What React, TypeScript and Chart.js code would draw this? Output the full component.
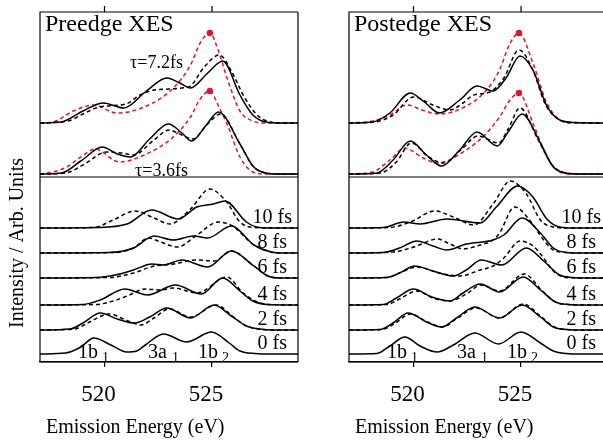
import { useEffect, useRef } from 'react';
import { Chart, registerables } from 'chart.js';

Chart.register(...registerables);

type Pt = [number, number];

const FONT = "'Liberation Serif', 'Times New Roman', serif";
const RED = '#e3122e';

// ---- axes / layout values ----
const xTicks = [520, 525];
const energyMin = 517;
const energyMaxLeft = 529;
const energyMaxRight = 528.81;
const yMax = 350;
const dividerValue = 185;

// ---- offsets of the stacked spectra ----
const upperBaselines = [239, 188]; // τ=7.2fs, τ=3.6fs
const tauLabels = ['τ=7.2fs', 'τ=3.6fs'];
const lowerBaselines = [8, 32, 57, 84, 109, 134]; // 0 .. 10 fs
const timeLabels = ['0 fs', '2 fs', '4 fs', '6 fs', '8 fs', '10 fs'];
const peakLabels: [string, string][] = [['1b', '1'], ['3a', '1'], ['1b', '2']];
const peakLabelEnergies = [518.77, 522.02, 524.35];

// ---- Preedge XES, upper part: [energy eV, intensity] ----
const preTau72Solid: Pt[] = [[517,0],[518.0,1],[519.0,12],[519.95,20],[520.9,15],[521.95,32],[522.9,45],[523.5,40],[524.0,35],[524.8,50],[525.5,62],[526.3,28],[526.9,8],[527.5,1],[528.2,0],[529,0]];
const preTau72Dash: Pt[] = [[517,0],[518.3,2],[519.0,9],[519.6,15],[520.1,17],[521.0,19],[521.65,28],[522.3,33],[523.0,34],[523.6,35],[524.0,37],[524.6,55],[525.35,68],[525.9,52],[526.5,26],[527.1,8],[527.7,1],[528.3,0],[529,0]];
const preTau72Red: Pt[] = [[517,0],[517.6,1],[518.55,12],[519.5,18],[520.57,10],[521.95,17],[523.2,35],[524.0,58],[524.45,80],[524.9,90],[525.3,72],[525.7,45],[526.3,12],[526.9,2],[527.5,0],[529,0]];
const preTau36Solid: Pt[] = [[517,0],[518.0,1],[518.9,13],[519.9,27],[520.6,20],[521.2,17],[522.1,35],[522.97,50],[523.6,41],[524.05,33],[524.7,48],[525.3,62],[526.3,30],[526.9,8],[527.5,1],[528.2,0],[529,0]];
const preTau36Dash: Pt[] = [[517,0],[518.2,1],[519.0,9],[520.1,22],[520.8,21],[521.35,19],[522.3,34],[523.0,44],[523.6,39],[524.1,35],[524.8,50],[525.4,60],[526.3,30],[526.9,8],[527.5,1],[528.2,0],[529,0]];
const preTau36Red: Pt[] = [[517,0],[517.6,2],[518.24,7],[518.9,17],[519.56,25],[520.7,12],[521.95,20],[523.2,37],[524.0,57],[524.45,75],[524.9,83],[525.3,68],[525.7,50],[526.3,17],[526.9,2],[527.5,0],[529,0]];

// ---- Preedge XES, lower part ----
const pre0Solid: Pt[] = [[517,0],[518.2,1],[518.9,7],[519.5,16],[520.3,9],[521.03,2],[521.5,3],[521.9,9],[522.74,20],[523.82,12],[524.98,22],[525.8,11],[526.3,3],[527.0,0.5],[527.8,0],[529,0]];
const pre2Solid: Pt[] = [[517,0],[518.4,1],[519.0,7],[519.8,17],[520.6,11],[521.4,7],[522.1,13],[522.9,22],[524.0,12],[525.1,25],[525.9,14],[526.6,4],[527.2,1],[527.9,0],[529,0]];
const pre2Dash: Pt[] = [[517,0],[518.6,1],[519.3,8],[520.2,16],[521.0,10],[521.7,5],[522.3,12],[523.0,21],[524.0,13],[525.2,25],[526.0,13],[526.6,4],[527.2,1],[527.9,0],[529,0]];
const pre4Solid: Pt[] = [[517,0],[519.0,0.5],[519.8,5],[520.95,16],[522.0,10],[523.3,20],[524.5,11],[525.5,27],[526.3,14],[526.9,4],[527.6,0.5],[529,0]];
const pre4Dash: Pt[] = [[517,0],[519.6,0.5],[520.4,4],[521.05,9],[521.9,16],[522.6,15],[523.2,17],[524.3,12],[525.7,28],[526.4,13],[527.0,4],[527.6,0.5],[529,0]];
const pre6Solid: Pt[] = [[517,0],[519.6,0.5],[520.5,3],[521.35,8],[522.2,14],[522.75,13],[523.6,18],[524.8,11],[525.9,27],[526.95,12],[527.6,2],[528.2,0],[529,0]];
const pre6Dash: Pt[] = [[517,0],[520.2,0.5],[521.35,5],[522.3,12],[523.2,14],[524.3,18],[525.1,17],[525.9,27],[526.95,12],[527.6,2],[528.2,0],[529,0]];
const pre8Solid: Pt[] = [[517,0],[520.2,0.5],[521.35,5],[522.3,17],[523.2,13],[524.15,17],[524.8,15],[525.9,27],[526.95,8],[527.75,1],[528.3,0],[529,0]];
const pre8Dash: Pt[] = [[517,0],[520.5,0.5],[521.35,5],[522.05,15],[522.6,11],[523.4,6],[524.3,18],[525.3,31],[525.95,27],[526.95,8],[527.75,1],[528.3,0],[529,0]];
const pre10Solid: Pt[] = [[517,0],[519.6,0.5],[521.05,4],[522.2,18],[523.43,9],[524.29,21],[525.06,24],[525.6,27],[526.6,6],[527.2,0.5],[527.8,0],[529,0]];
const pre10Dash: Pt[] = [[517,0],[519.5,0.5],[520.4,8],[521.42,17],[522.3,10],[523.05,4],[524.0,19],[524.9,39],[525.68,26],[526.3,6],[526.95,0.5],[529,0]];

// ---- Postedge XES, upper part ----
const postTau72Solid: Pt[] = [[517,0],[518.1,1],[518.9,10],[519.85,30],[520.5,21],[521.2,10],[522.15,23],[522.95,37],[523.7,32],[524.3,45],[524.95,67],[525.55,53],[526.2,17],[526.8,3],[527.5,0.5],[529,0]];
const postTau72Dash: Pt[] = [[517,0],[518.2,1],[519.05,8],[520.0,26],[520.9,18],[521.7,13],[522.3,20],[522.8,28],[523.55,31],[524.2,45],[524.9,73],[525.55,53],[526.1,20],[526.65,5],[527.4,0.5],[529,0]];
const postTau72Red: Pt[] = [[517,0],[518.1,2],[518.9,8],[519.7,18],[520.4,13],[521.2,9],[522.45,17],[523.4,33],[524.0,53],[524.45,78],[524.9,90],[525.55,60],[526.2,20],[526.8,3],[527.4,0],[529,0]];
const postTau36Solid: Pt[] = [[517,0],[518.3,1],[519.05,14],[519.85,33],[520.6,19],[521.3,8],[522.15,24],[522.95,42],[523.9,28],[524.4,42],[525.05,60],[525.9,31],[526.5,7],[527.1,1],[527.8,0],[529,0]];
const postTau36Dash: Pt[] = [[517,0],[518.45,1],[519.2,12],[519.9,31],[520.7,17],[521.4,11],[522.2,24],[523.0,38],[523.95,31],[524.4,45],[524.95,66],[525.8,34],[526.45,9],[527.05,1],[527.8,0],[529,0]];
const postTau36Red: Pt[] = [[517,0],[518.1,2],[518.9,14],[519.6,26],[520.45,16],[521.1,11],[522.45,24],[523.4,41],[524.0,57],[524.45,73],[524.9,81],[525.55,51],[526.2,17],[526.8,2],[527.4,0],[529,0]];

// ---- Postedge XES, lower part ----
const post0Solid: Pt[] = [[517,0],[518.3,0.5],[518.9,8],[519.6,17],[520.3,8],[521.1,2],[521.85,9],[522.85,21],[523.95,10],[525.0,22],[525.9,11],[526.5,3],[527.1,0.5],[527.8,0],[529,0]];
const post2Solid: Pt[] = [[517,0],[518.45,0.5],[519.05,7],[519.75,17],[520.6,8],[521.3,3],[522.0,12],[522.85,23],[524.0,12],[525.05,25],[525.9,13],[526.5,3],[527.1,0.5],[527.8,0],[529,0]];
const post2Dash: Pt[] = [[517,0],[518.5,0.5],[519.1,6],[519.85,16],[520.65,8],[521.35,3],[522.05,12],[522.9,22],[524.0,12],[525.1,26],[525.95,13],[526.55,3],[527.15,0.5],[527.8,0],[529,0]];
const post4Solid: Pt[] = [[517,0],[518.6,0.5],[519.2,7],[520.0,16],[520.85,8],[521.7,4],[522.3,12],[523.1,21],[524.0,13],[525.1,28],[525.9,15],[526.6,3],[527.2,0.5],[527.9,0],[529,0]];
const post4Dash: Pt[] = [[517,0],[518.75,0.5],[519.35,6],[520.15,14],[520.9,7],[521.7,4],[522.45,11],[523.15,20],[524.0,14],[525.15,31],[525.95,15],[526.6,3],[527.2,0.5],[527.9,0],[529,0]];
const post6Solid: Pt[] = [[517,0],[518.75,0.5],[519.35,5],[520.05,12],[520.9,7],[521.85,2],[522.45,8],[523.15,18],[524.1,13],[525.25,30],[526.05,17],[526.8,3],[527.4,0.5],[528,0],[529,0]];
const post6Dash: Pt[] = [[517,0],[518.75,0.5],[519.35,5],[520.15,11],[521.2,5],[522.15,2],[523.1,8],[523.7,12],[524.2,20],[524.95,37],[525.55,32],[526.05,20],[526.5,7],[527.1,0.5],[527.8,0],[529,0]];
const post8Solid: Pt[] = [[517,0],[518.6,0.5],[519.35,5],[520.15,12],[520.9,7],[521.55,3],[522.45,9],[523.7,13],[524.2,18],[525.05,35],[525.9,20],[526.5,5],[527.1,0.5],[527.8,0],[529,0]];
const post8Dash: Pt[] = [[517,0],[518.6,0.5],[519.35,2],[520.15,7],[521.1,14],[521.7,9],[522.3,4],[523.1,8],[523.7,13],[524.0,20],[524.7,46],[525.4,33],[526.05,13],[526.5,3],[527.1,0.5],[527.8,0],[529,0]];
const post10Solid: Pt[] = [[517,0],[518.6,0.5],[519.55,6],[520.3,4],[521.55,9],[523.1,5],[523.85,21],[524.85,42],[525.55,31],[526.2,9],[526.8,1],[527.5,0],[529,0]];
const post10Dash: Pt[] = [[517,0],[518.9,0.5],[519.85,6],[521.0,17],[521.85,11],[522.8,3],[523.7,24],[524.5,47],[525.25,34],[525.9,8],[526.5,1],[527.2,0],[529,0]];

type Group = { solid: Pt[]; dash: Pt[] | null; red?: Pt[] };

const preUpper: Group[] = [
  { solid: preTau72Solid, dash: preTau72Dash, red: preTau72Red },
  { solid: preTau36Solid, dash: preTau36Dash, red: preTau36Red },
];
const preLower: Group[] = [
  { solid: pre0Solid, dash: null },
  { solid: pre2Solid, dash: pre2Dash },
  { solid: pre4Solid, dash: pre4Dash },
  { solid: pre6Solid, dash: pre6Dash },
  { solid: pre8Solid, dash: pre8Dash },
  { solid: pre10Solid, dash: pre10Dash },
];
const postUpper: Group[] = [
  { solid: postTau72Solid, dash: postTau72Dash, red: postTau72Red },
  { solid: postTau36Solid, dash: postTau36Dash, red: postTau36Red },
];
const postLower: Group[] = [
  { solid: post0Solid, dash: null },
  { solid: post2Solid, dash: post2Dash },
  { solid: post4Solid, dash: post4Dash },
  { solid: post6Solid, dash: post6Dash },
  { solid: post8Solid, dash: post8Dash },
  { solid: post10Solid, dash: post10Dash },
];

function makeLine(points: Pt[], base: number, kind: 'solid' | 'dash' | 'red') {
  const data = points.map(([x, h]) => ({ x, y: base + h }));
  let peak = 0;
  points.forEach((p, i) => { if (p[1] > points[peak][1]) peak = i; });
  return {
    data,
    borderColor: kind === 'red' ? RED : '#000',
    borderWidth: 1.5,
    borderDash: kind === 'solid' ? [] : [4, 3],
    pointRadius: kind === 'red' ? points.map((_, i) => (i === peak ? 3.2 : 0)) : 0,
    pointBackgroundColor: RED,
    pointBorderWidth: 0,
    cubicInterpolationMode: 'monotone' as const,
    fill: false,
  };
}

function buildDatasets(upper: Group[], lower: Group[]) {
  const sets: any[] = [];
  const add = (g: Group, base: number) => {
    sets.push(makeLine(g.solid, base, 'solid'));
    if (g.dash) sets.push(makeLine(g.dash, base, 'dash'));
    if (g.red) sets.push(makeLine(g.red, base, 'red'));
  };
  upper.forEach((g, i) => add(g, upperBaselines[i]));
  lower.forEach((g, i) => add(g, lowerBaselines[i]));
  return sets;
}

type PanelCfg = {
  title: string;
  openRight: boolean;
  showTau: boolean;
  showYTitle: boolean;
};

function decorPlugin(cfg: PanelCfg) {
  return {
    id: 'decor',
    afterDraw(chart: any) {
      const { ctx, chartArea: a, scales } = chart;
      const xs = scales.x;
      const ys = scales.y;
      const right = cfg.openRight ? chart.width : a.right;
      ctx.save();
      ctx.strokeStyle = '#000';
      ctx.lineWidth = 1.2;
      ctx.setLineDash([]);
      ctx.beginPath();
      ctx.moveTo(right, a.top);
      ctx.lineTo(a.left, a.top);
      ctx.lineTo(a.left, a.bottom);
      ctx.lineTo(right, a.bottom);
      if (!cfg.openRight) {
        ctx.moveTo(a.right, a.top);
        ctx.lineTo(a.right, a.bottom);
      }
      const dy = ys.getPixelForValue(dividerValue);
      ctx.moveTo(a.left, dy);
      ctx.lineTo(right, dy);
      xTicks.forEach((v) => {
        const px = xs.getPixelForValue(v);
        ctx.moveTo(px, a.top);
        ctx.lineTo(px, a.top - 6);
      });
      ctx.stroke();

      ctx.fillStyle = '#000';
      ctx.textBaseline = 'alphabetic';
      ctx.textAlign = 'left';
      ctx.font = `24px ${FONT}`;
      ctx.fillText(cfg.title, a.left + 5, 31);

      if (cfg.showTau) {
        ctx.font = `18px ${FONT}`;
        ctx.fillText(tauLabels[0], xs.getPixelForValue(521.19), ys.getPixelForValue(upperBaselines[0] + 55));
        ctx.fillText(tauLabels[1], xs.getPixelForValue(521.42), ys.getPixelForValue(upperBaselines[1] - 2));
      }

      ctx.font = `20px ${FONT}`;
      ctx.textAlign = 'center';
      timeLabels.forEach((t, i) => {
        ctx.fillText(t, xs.getPixelForValue(527.8), ys.getPixelForValue(lowerBaselines[i] + 5));
      });

      ctx.textAlign = 'left';
      peakLabels.forEach(([main, sub], i) => {
        const px = xs.getPixelForValue(peakLabelEnergies[i]);
        ctx.font = `20px ${FONT}`;
        ctx.fillText(main, px, ys.getPixelForValue(4));
        ctx.font = `14px ${FONT}`;
        ctx.fillText(sub, px + 24, ys.getPixelForValue(0.5));
      });

      ctx.font = `20px ${FONT}`;
      ctx.fillText('Emission Energy (eV)', a.left + 6, 433);

      if (cfg.showYTitle) {
        ctx.save();
        ctx.translate(18, 243);
        ctx.rotate(-Math.PI / 2);
        ctx.textAlign = 'center';
        ctx.textBaseline = 'middle';
        ctx.fillText('Intensity / Arb. Units', 0, 0);
        ctx.restore();
      }
      ctx.restore();
    },
  };
}

function makeChart(canvas: HTMLCanvasElement, upper: Group[], lower: Group[], xMax: number, padLeft: number, padRight: number, cfg: PanelCfg) {
  return new Chart(canvas, {
    type: 'line',
    data: { datasets: buildDatasets(upper, lower) },
    options: {
      animation: false,
      responsive: false,
      devicePixelRatio: 1,
      layout: { padding: { left: padLeft, right: padRight, top: 12, bottom: 0 } },
      plugins: { legend: { display: false }, tooltip: { enabled: false } },
      scales: {
        x: {
          type: 'linear',
          min: energyMin,
          max: xMax,
          afterBuildTicks: (s: any) => { s.ticks = xTicks.map((v) => ({ value: v })); },
          afterFit: (s: any) => { s.height = 78; },
          grid: { display: true, drawOnChartArea: false, drawTicks: true, tickLength: 5, color: '#000', lineWidth: 1.2 },
          border: { display: true, color: '#000', width: 1.2 },
          ticks: { font: { family: FONT, size: 23 }, color: '#000', padding: 14, labelOffset: -6, maxRotation: 0, autoSkip: false },
        },
        y: { display: false, min: 0, max: yMax },
      },
    } as any,
    plugins: [decorPlugin(cfg)],
  });
}

export default function App() {
  const leftRef = useRef<HTMLCanvasElement>(null);
  const rightRef = useRef<HTMLCanvasElement>(null);

  useEffect(() => {
    const c1 = makeChart(leftRef.current!, preUpper, preLower, energyMaxLeft, 40, 2, {
      title: 'Preedge XES', openRight: false, showTau: true, showYTitle: true,
    });
    const c2 = makeChart(rightRef.current!, postUpper, postLower, energyMaxRight, 49, 0, {
      title: 'Postedge XES', openRight: true, showTau: false, showYTitle: false,
    });
    return () => { c1.destroy(); c2.destroy(); };
  }, []);

  return (
    <div style={{ position: 'fixed', left: 0, top: 0, width: 603, height: 440, background: '#fff', overflow: 'hidden' }}>
      <canvas ref={leftRef} width={300} height={440} style={{ position: 'absolute', left: 0, top: 0, width: 300, height: 440 }} />
      <canvas ref={rightRef} width={303} height={440} style={{ position: 'absolute', left: 300, top: 0, width: 303, height: 440 }} />
    </div>
  );
}
